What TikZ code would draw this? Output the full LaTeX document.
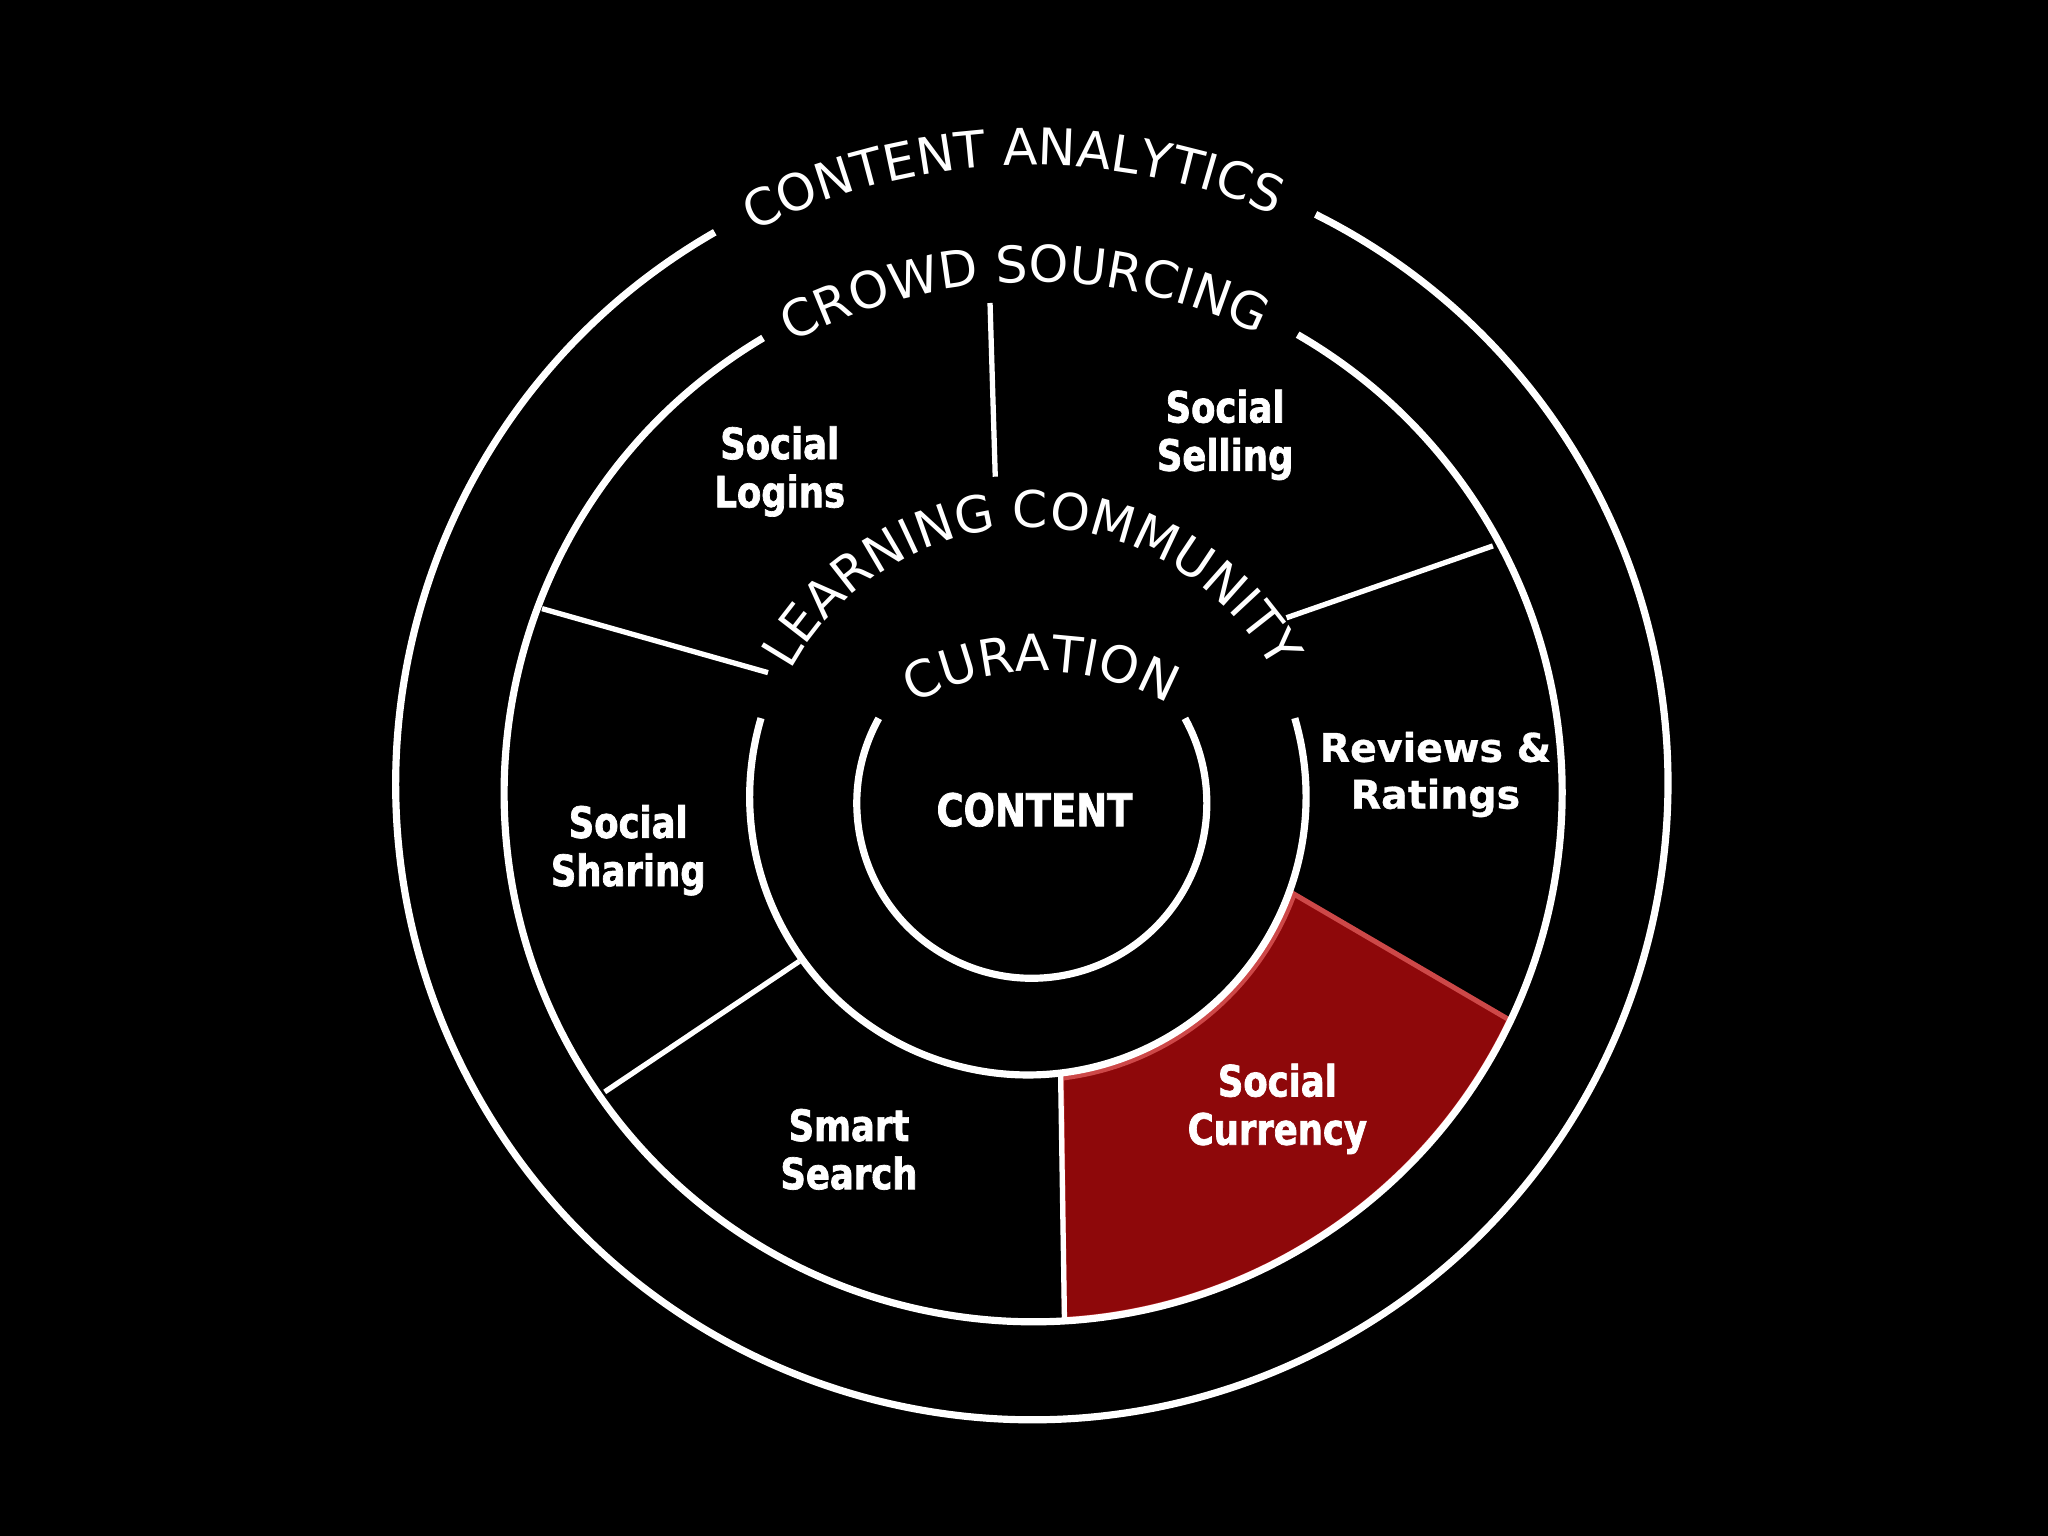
\documentclass[tikz,border=0pt]{standalone}
\usepackage{fontspec}
\usetikzlibrary{decorations.text,calc}
\newfontfamily\arcfont{DejaVu Sans}
\newfontfamily\lblfont{DejaVu Sans}[FakeStretch=0.82,BoldFeatures={FakeBold=1.6}]
\newfontfamily\wlblfont{DejaVu Sans}[BoldFeatures={FakeBold=0.8}]
\definecolor{segred}{RGB}{142,8,10}
\definecolor{segedge}{RGB}{205,72,72}
\begin{document}
\begin{tikzpicture}[x=0.01cm,y=0.01cm,
  ring/.style={draw=white,line width=1.56pt},
  sepline/.style={draw=white,line width=1.15pt},
  lbl/.style={text=white,align=center,inner sep=0pt,font=\fontsize{9.4}{10.5}\lblfont\bfseries},
  lblwide/.style={text=white,align=center,inner sep=0pt,font=\fontsize{8.6}{10.2}\wlblfont\bfseries},
  arctext/.style={decorate,decoration={text along path,text align=center,text color=white,text={|\fontsize{11}{13}\arcfont|#1}}}
]
\fill[black] (0,0) rectangle (1568,1176);
\useasboundingbox (0,0) rectangle (1568,1176);
% centres
\coordinate (C1) at (790,576);
\coordinate (C2) at (791,569);
\coordinate (C3) at (787,566);
\coordinate (C4) at (790,561);
\coordinate (CL) at (790,562);
\coordinate (CC) at (797,462);
% red segment
\fill[segred,draw=segedge,line width=1.1pt]
  ($(C3)+(-20.1:217)$) -- ($(C2)+(-25.5:404)$)
  arc[start angle=-25.5,end angle=-86.6,radius=404]
  -- ($(C3)+(-83.2:217)$)
  arc[start angle=-83.2,end angle=-20.1,radius=217] -- cycle;
% rings
\draw[ring] ($(C1)+(119.9:487)$) arc[start angle=119.9,end angle=423.5,radius=487];
\draw[ring] ($(C2)+(120.7:405)$) arc[start angle=120.7,end angle=420,radius=405];
\draw[ring] ($(C3)+(163.6:213)$) arc[start angle=163.6,end angle=376.4,radius=213];
\draw[ring] ($(C4)+(151:134)$) arc[start angle=151,end angle=389,radius=134];
% separators
\coordinate (t1) at (758,944);  \coordinate (t2) at (762,811);
\coordinate (ul1) at (415,710); \coordinate (ul2) at (588,661);
\coordinate (ur1) at (1143,758);\coordinate (ur2) at (985,703);
\coordinate (ll1) at (463,340); \coordinate (ll2) at (612,440);
\coordinate (b1) at (815,165);  \coordinate (b2) at (812,355);
\draw[sepline] (t1) -- (t2);
\draw[sepline] (ul1) -- (ul2);
\draw[sepline] (ur1) -- (ur2);
\draw[sepline] (ll1) -- (ll2);
\draw[sepline] (b1) -- (b2);
% curved texts
\path[arctext={CONTENT ANALYTICS}] ($(C1)+(126.8:473.5)$) arc[start angle=126.8,end angle=56.8,radius=473.5];
\path[arctext={CROWD SOURCING}] ($(C2)+(126:391)$) arc[start angle=126,end angle=56,radius=391];
\path[arctext={LEARNING COMMUNITY}] ($(CL)+(165:210)$) arc[start angle=165,end angle=15,radius=210];
\path[arctext={CURATION}] ($(CC)+(130:200)$) arc[start angle=130,end angle=50,radius=200];
% labels
\node[lbl] (logins) at (597,815) {Social\\Logins};
\node[lbl] (selling) at (938,843) {Social\\Selling};
\node[lblwide] (reviews) at (1099,583) {Reviews \&\\Ratings};
\node[lbl,font=\fontsize{9.8}{11}\lblfont\bfseries] (content) at (792,556) {CONTENT};
\node[lbl] (sharing) at (481,525) {Social\\Sharing};
\node[lbl] (search) at (650,296) {Smart\\Search};
\node[lbl] (currency) at (978,327) {Social\\Currency};
\end{tikzpicture}
\end{document}
